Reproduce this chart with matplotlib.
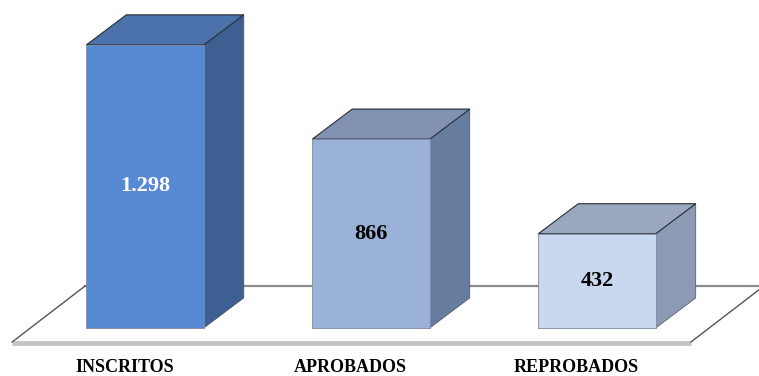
import matplotlib.pyplot as plt
from matplotlib.patches import Polygon

# --- data ---
categories = ["INSCRITOS", "APROBADOS", "REPROBADOS"]
values = [1298, 866, 432]
value_labels = ["1.298", "866", "432"]

# --- styling ---
front_colors = ["#5889d5", "#9ab1d8", "#c9d8ef"]
side_colors = ["#3d5f91", "#667d9f", "#8c9bb3"]
top_colors = ["#4b72ab", "#8091b2", "#9aa7bf"]
text_colors = ["white", "black", "black"]

BAR_W = 0.52
DX = 0.177   # depth offset in x units
DY = 138     # depth offset in value units

fig = plt.figure(figsize=(7.59, 3.76), dpi=100)
ax = fig.add_axes([0, 0, 1, 1])
ax.set_xlim(-0.642, 2.717)
ax.set_ylim(-220, 1504)
ax.axis("off")

# floor (white plane with grey edges)
fy0, fy1 = -64, 193
fx0, fx1, fdx = -0.588, 2.416, 0.323
ax.add_patch(Polygon([(fx0, fy0), (fx1, fy0), (fx1 + fdx, fy1), (fx0 + fdx, fy1)],
                     closed=True, facecolor="white", edgecolor="none", zorder=1))
ax.plot([fx0, fx1], [fy0 - 4, fy0 - 4], color="#c4c4c4", lw=3.5, zorder=1.1,
        solid_capstyle="butt")
ax.plot([fx0 + fdx, fx1 + fdx], [fy1, fy1], color="#8c8c8c", lw=1.6, zorder=1.1)
ax.plot([fx0, fx0 + fdx], [fy0, fy1], color="#555555", lw=1.0, zorder=1.2)
ax.plot([fx1, fx1 + fdx], [fy0, fy1], color="#555555", lw=1.0, zorder=1.2)

xs = list(range(len(values)))
bars = ax.bar(xs, values, width=BAR_W, color=front_colors, edgecolor="#7f8aa0",
              lw=0.6, zorder=3)

for i, (x, v) in enumerate(zip(xs, values)):
    l, r = x - BAR_W / 2, x + BAR_W / 2
    # side face
    ax.add_patch(Polygon([(r, 0), (r + DX, DY), (r + DX, v + DY), (r, v)],
                         closed=True, facecolor=side_colors[i], edgecolor="#4a5060",
                         lw=0.5, zorder=2.5))
    # top face
    ax.add_patch(Polygon([(l, v), (l + DX, v + DY), (r + DX, v + DY), (r, v)],
                         closed=True, facecolor=top_colors[i], edgecolor="#2a2e38",
                         lw=0.8, zorder=2.6))
    ax.text(x, v / 2, value_labels[i], ha="center", va="center",
            fontsize=16, fontweight="bold", family="Liberation Serif",
            color=text_colors[i], zorder=5)
    ax.text(x - 0.09, -179, categories[i], ha="center", va="center",
            fontsize=13, fontweight="bold", family="Liberation Serif",
            color="black", zorder=5)

fig.savefig("out.png", dpi=100)
